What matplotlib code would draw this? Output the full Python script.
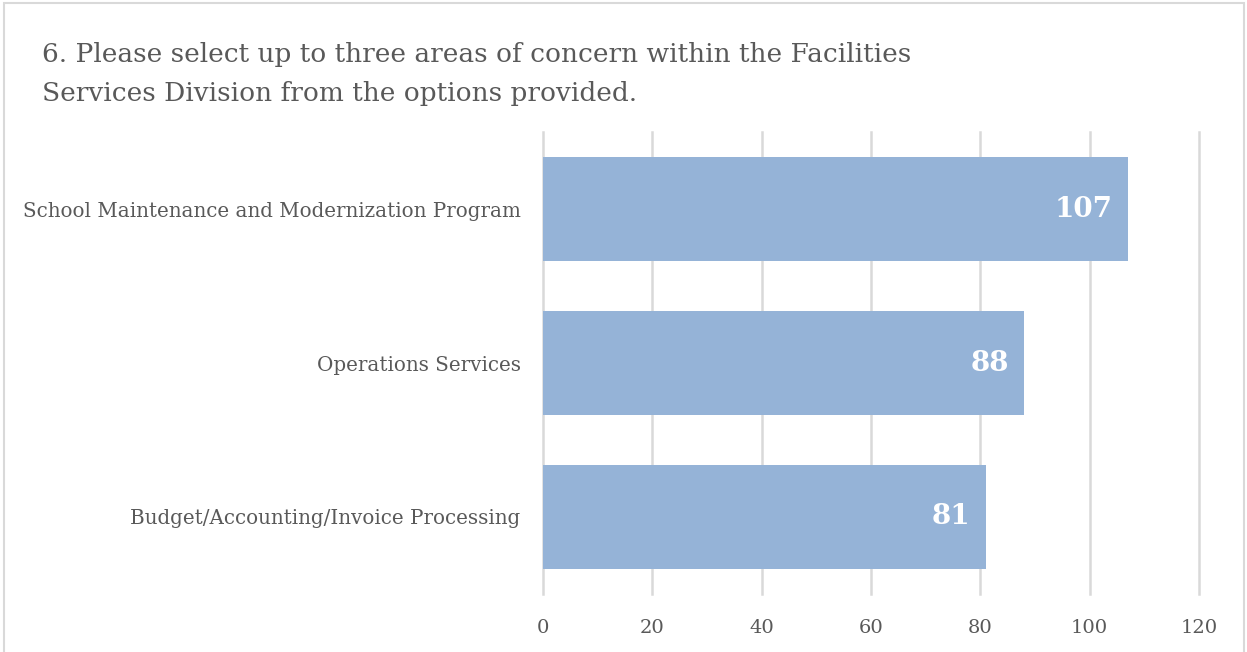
import matplotlib
matplotlib.use('Agg')
import matplotlib.pyplot as plt
from matplotlib.patches import Rectangle

# survey responses, question 6
categories = ["School Maintenance and Modernization Program",
              "Operations Services",
              "Budget/Accounting/Invoice Processing"]
counts = [107, 88, 81]
ticks = [0, 20, 40, 60, 80, 100, 120]
title = ("6. Please select up to three areas of concern within the Facilities\n"
         "Services Division from the options provided.")

text_color = '#595959'
bar_color = '#95b3d7'
grid_color = '#d9d9d9'

plt.rcParams['font.family'] = ['DejaVu Serif']

fig = plt.figure(figsize=(12.47, 6.52), dpi=100)
fig.patches.append(Rectangle((4 / 1247, -0.01), 1 - 7 / 1247, 1 - 3 / 652 + 0.01,
                             transform=fig.transFigure, fill=False,
                             edgecolor=grid_color, linewidth=1.5))

ax = fig.add_axes([0.4354, 0.0890, 0.5261, 0.7085])
ypos = list(range(len(categories)))
bars = ax.barh(ypos, counts, height=0.675, color=bar_color, zorder=2)

for rect, v in zip(bars, counts):
    ax.annotate(str(v), (rect.get_width(), rect.get_y() + rect.get_height() / 2),
                xytext=(-11, 0), textcoords='offset points',
                ha='right', va='center', color='white',
                fontsize=20, fontweight='bold', zorder=3)

ax.set_xlim(0, 120)
ax.set_ylim(len(categories) - 0.5, -0.5)
ax.set_xticks(ticks)
ax.set_yticks(ypos)
ax.set_yticklabels(categories)
ax.grid(axis='x', color=grid_color, linewidth=1.8, zorder=0)
for gl in ax.get_xgridlines():
    gl.set_clip_on(False)
ax.tick_params(axis='both', length=0, labelcolor=text_color, labelsize=14)
ax.tick_params(axis='y', labelsize=14.3, pad=16)
ax.tick_params(axis='x', pad=18)
for s in ax.spines.values():
    s.set_visible(False)

fig.text(42 / 1247, 1 - 42 / 652, title, ha='left', va='top',
         fontsize=19, color=text_color, linespacing=1.7)

fig.savefig('out.png', dpi=100)
